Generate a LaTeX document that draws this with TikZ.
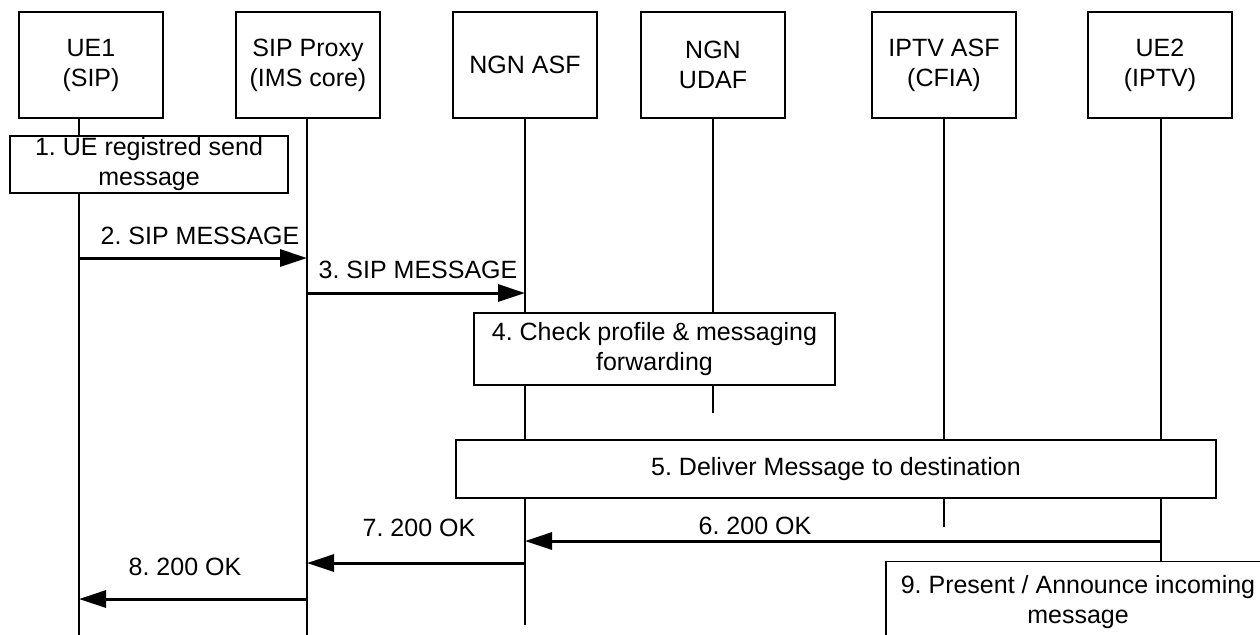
\documentclass[tikz,border=0pt]{standalone}
\usepackage{fontspec}
\setmainfont{Liberation Sans}
\usetikzlibrary{arrows.meta, positioning}
\frenchspacing

\tikzset{
  entity/.style={draw, line width=0.6pt, fill=white, align=center, inner sep=0pt,
    minimum width=72pt, minimum height=53pt},
  stepbox/.style={draw, line width=0.6pt, fill=white, align=center, inner sep=0pt},
  life/.style={line width=0.65pt},
  msg/.style={line width=1.5pt, -{Triangle[length=13.5pt, width=8.5pt]}},
  lbl/.style={anchor=base, inner sep=0pt},
}

\begin{document}
\begin{tikzpicture}[x=0.5pt, y=-0.5pt, font=\fontsize{12.5}{15}\selectfont]

        \clip (0,0) rectangle (1260,634);

        % lifeline positions
        \def\xA{79}
        \def\xB{307}
        \def\xC{525}
        \def\xD{713}
        \def\xE{944}
        \def\xF{1161}

        % entities
        \node[entity] (ue1)  at (91,65)   {UE1\\(SIP)};
        \node[entity] (sipp) at (308,65)  {SIP Proxy\\(IMS core)};
        \node[entity] (asf)  at (525,65)  {NGN ASF};
        \node[entity] (udaf) at (713,65)  {NGN\\UDAF};
        \node[entity] (iptv) at (944,65)  {IPTV ASF\\(CFIA)};
        \node[entity] (ue2)  at (1160,65) {UE2\\(IPTV)};

        % lifelines
        \coordinate (ue1end)  at (\xA,640);
        \coordinate (sippend) at (\xB,640);
        \coordinate (asfend)  at (\xC,625);
        \coordinate (udafend) at (\xD,413);
        \coordinate (iptvend) at (\xE,527);
        \coordinate (ue2end)  at (\xF,640);
        \draw[life] ([xshift=-6pt]ue1.south) -- (ue1end);
        \draw[life] ([xshift=-0.5pt]sipp.south) -- (sippend);
        \draw[life] (asf.south) -- (asfend);
        \draw[life] (udaf.south) -- (udafend);
        \draw[life] (iptv.south) -- (iptvend);
        \draw[life] ([xshift=0.5pt]ue2.south) -- (ue2end);

        % steps
        \node[stepbox, minimum width=139pt, minimum height=28.5pt] (s1) at (149,164.5)
            {1. UE registred send\\message};
        \node[stepbox, minimum width=180.5pt, minimum height=36pt] (s4) at (654.5,349)
            {4. Check profile \& messaging\\forwarding};
        \node[stepbox, minimum width=380pt, minimum height=29pt] (s5) at (836,469)
            {5. Deliver Message to destination};
        \node[stepbox, anchor=north, minimum width=192pt, minimum height=40pt] (s9) at (1078,561)
            {9. Present / Announce incoming\\message};

        % messages
        \coordinate (m2a) at (\xA,258);
        \coordinate (m2b) at (\xB,258);
        \coordinate (m3a) at (\xB,293);
        \coordinate (m3b) at (\xC,293);
        \coordinate (m6a) at (\xF,541);
        \coordinate (m6b) at (\xC,541);
        \coordinate (m7a) at (\xC,563);
        \coordinate (m7b) at (\xB,563);
        \coordinate (m8a) at (\xB,599);
        \coordinate (m8b) at (\xA,599);

        \draw[msg] (m2a) -- (m2b);
        \draw[msg] (m3a) -- (m3b);
        \draw[msg] (m6a) -- (m6b);
        \draw[msg] (m7a) -- (m7b);
        \draw[msg] (m8a) -- (m8b);

        \node[lbl] (l2) at (200,244) {2. SIP MESSAGE};
        \node[lbl] (l3) at (418,278) {3. SIP MESSAGE};
        \node[lbl] (l6) at (755,534) {6. 200 OK};
        \node[lbl] (l7) at (419,536) {7. 200 OK};
        \node[lbl] (l8) at (185,575) {8. 200 OK};

\end{tikzpicture}
\end{document}
